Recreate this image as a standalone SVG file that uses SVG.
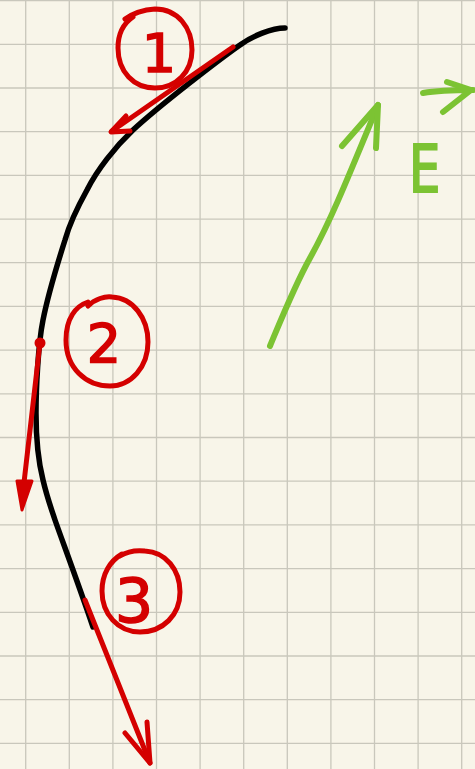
<svg xmlns="http://www.w3.org/2000/svg" width="475" height="769" viewBox="0 0 475 769">
<style>
.grid{stroke:#c9c7bc;stroke-width:1.3;fill:none}
.blk{stroke:#000;stroke-width:5.5;fill:none;stroke-linecap:round;stroke-linejoin:round}
.red{stroke:#d40000;stroke-width:5;fill:none;stroke-linecap:round;stroke-linejoin:round}
.grn{stroke:#7cc333;stroke-width:6;fill:none;stroke-linecap:round;stroke-linejoin:round}
.num{fill:#d40000;stroke:#d40000;stroke-width:1.6;font-family:"DejaVu Sans",sans-serif;text-anchor:middle}
.lbl{fill:#7cc333;stroke:#7cc333;stroke-width:2.2;font-family:"DejaVu Sans",sans-serif}
</style>
<rect width="475" height="769" fill="#f8f5e9"/>
<g id="grid" class="grid">
<path d="M25.7,0V769M69.3,0V769M112.9,0V769M156.5,0V769M200.1,0V769M243.7,0V769M287.3,0V769M330.9,0V769M374.5,0V769M418.1,0V769M461.7,0V769"/>
<path d="M0,0.6H475M0,44.3H475M0,88H475M0,131.7H475M0,175.4H475M0,219.1H475M0,262.7H475M0,306.4H475M0,350.1H475M0,393.8H475M0,437.5H475M0,481.2H475M0,524.9H475M0,568.6H475M0,612.3H475M0,656H475M0,699.7H475M0,743.4H475"/>
</g>
<g id="trajectory">
<path class="blk" d="M285,28 C272,28 252,36 240,45 C220,59 160,105 133,130 C115,147 97,170 87,190 C77,208 70,222 65,240 C58,262 47,300 43,320 C38,345 36,390 36,413 C36,435 38,460 43,480 C47,497 50,505 55,520 C62,540 77,580 93,627"/>
</g>
<g id="connectors">
<g id="arrow1">
<path class="red" d="M233,47 L112,131"/>
<path class="red" d="M126,116 L111,132 L130,131"/>
</g>
<g id="arrow2">
<path class="red" d="M40,343 L22,500"/>
<circle cx="40" cy="343" r="5.5" fill="#d40000"/>
<path d="M17,481 L32,481 L22,510 Z" fill="#d40000" stroke="#d40000" stroke-width="3" stroke-linejoin="round"/>
</g>
<g id="arrow3">
<path class="red" d="M85,600 L150,763"/>
<path class="red" d="M125,733 L150,763 L147,722"/>
</g>
<g id="fieldArrow">
<path class="grn" d="M270,346 C285,310 295,285 310,258 C330,222 345,185 378,105"/>
<path class="grn" d="M342,146 L378,105 L376,148"/>
</g>
</g>
<g id="label1">
<path class="red" d="M125,19 C132,14 140,10 155,9 C178,9 192,28 192,50 C192,72 176,88 155,88 C134,88 118,72 118,48 C118,33 124,23 133,17"/>
<text class="num" x="159" y="72" font-size="54">1</text>
</g>
<g id="label2">
<path class="red" d="M88,306 C95,299 105,296 112,297 C133,298 148,318 148,342 C148,367 131,386 110,386 C86,386 66,368 66,340 C66,318 76,306 88,302"/>
<text class="num" x="104" y="362" font-size="54">2</text>
</g>
<g id="label3">
<path class="red" d="M120,556 C128,551 136,550 145,551 C166,552 180,570 180,592 C180,615 163,632 140,632 C118,632 102,614 102,591 C102,574 110,561 122,554"/>
<text class="num" x="134" y="622" font-size="60">3</text>
</g>
<g id="labelE">
<text class="lbl" x="0" y="0" font-size="66" transform="translate(409,192) scale(0.75,1)">E</text>
<path class="grn" d="M423,93 C440,90 455,90 473,90"/>
<path class="grn" d="M447,82 L471,90 L443,112"/>
</g>
</svg>
